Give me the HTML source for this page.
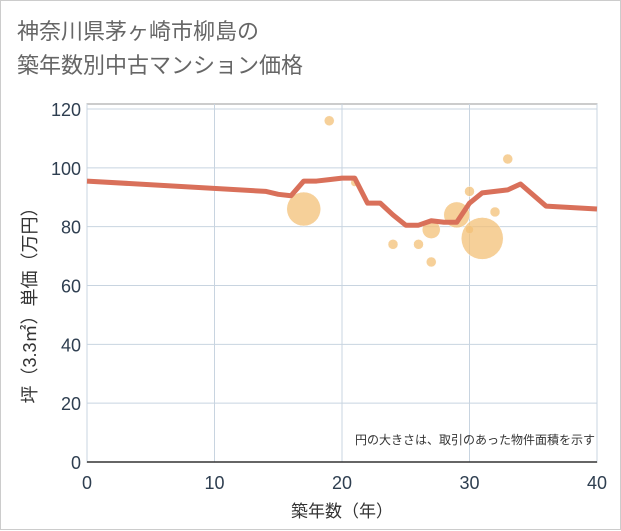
<!DOCTYPE html>
<html><head><meta charset="utf-8"><style>
body{margin:0;background:#fff;}
#wrap{position:relative;width:619px;height:528px;border:1px solid #ccc;background:#fff;font-family:"Liberation Sans","Noto Sans CJK JP",sans-serif;}
#title{position:absolute;left:16px;top:14px;font-size:22px;line-height:34px;color:#666;}
svg{position:absolute;left:0;top:0;}
</style></head><body>
<div id="wrap">
<div id="title">神奈川県茅ヶ崎市柳島の<br>築年数別中古マンション価格</div>
<svg id="chart" width="621" height="530"></svg>
</div>
<script>
const lineX=[0,14,15,16,17,18,19,20,21,22,23,24,25,26,27,28,29,30,31,32,33,34,36,40];
const lineY=[95.5,92,91,90.5,95.5,95.5,96,96.5,96.5,88,88,84,80.5,80.5,82,81.5,81.5,88,91.5,92,92.5,94.5,87,86];
const bubX=[19,17,21,24,26,27,27,29,30,30,31,32,33];
const bubY=[116,86,95,74,74,68,79,84,92,79,76,85,103];
const bubR=[5,17,4,5,5,5,9,13,5,4,21,5,5];
const xTicks=[0,10,20,30,40];
const yTicks=[0,20,40,60,80,100,120];
const NS="http://www.w3.org/2000/svg";
const svg=document.getElementById('chart');
const X0=86,X1=596,Y0=461,Y1=108;
const sx=v=>X0+(v-0)/40*(X1-X0);
const sy=v=>Y0-(v/120)*(Y0-Y1);
function mk(t,a){const e=document.createElementNS(NS,t);for(const k in a)e.setAttribute(k,a[k]);svg.appendChild(e);return e;}
let e=mk('rect',{x:X0,y:103,width:X1-X0,height:Y0-103,fill:'#fff',stroke:'#999','stroke-width':1});


xTicks.forEach(t=>{
 let g=mk('line',{x1:sx(t),x2:sx(t),y1:103,y2:Y0,stroke:'#c8d4e0','stroke-width':1});
 
 
 let l=mk('text',{x:sx(t),y:488,'text-anchor':'middle','font-size':18,fill:'#2e3e50'});l.textContent=t;
 
 
});
yTicks.forEach(t=>{
 let g=mk('line',{x1:X0,x2:X1,y1:sy(t),y2:sy(t),stroke:'#c8d4e0','stroke-width':1});
 
 
 let l=mk('text',{x:80,y:sy(t)+7,'text-anchor':'end','font-size':18,fill:'#2e3e50'});l.textContent=t;
 
 
});
let ax=mk('line',{x1:X0,x2:X1,y1:Y0,y2:Y0,stroke:'#333','stroke-width':1.5});


bubX.forEach((v,i)=>{
 let c=mk('circle',{cx:sx(v),cy:sy(bubY[i]),r:bubR[i],fill:'#f3c077','fill-opacity':0.75,stroke:'#fff','stroke-width':0.5});
 
 
});
let p=mk('polyline',{points:lineX.map((v,i)=>sx(v)+','+sy(lineY[i])).join(' '),fill:'none',stroke:'#d9705a','stroke-width':5,'stroke-linejoin':'round'});


let xt=mk('text',{x:341,y:516,'text-anchor':'middle','font-size':17,fill:'#333'});xt.textContent='築年数（年）';


let yt=mk('text',{x:0,y:0,'text-anchor':'middle','font-size':18,fill:'#333',transform:'translate(35,300) rotate(-90)'});yt.textContent='坪（3.3㎡）単価（万円）';


let n=mk('text',{x:594,y:443,'text-anchor':'end','font-size':12,fill:'#333'});n.textContent='円の大きさは、取引のあった物件面積を示す';


</script>
</body></html>
